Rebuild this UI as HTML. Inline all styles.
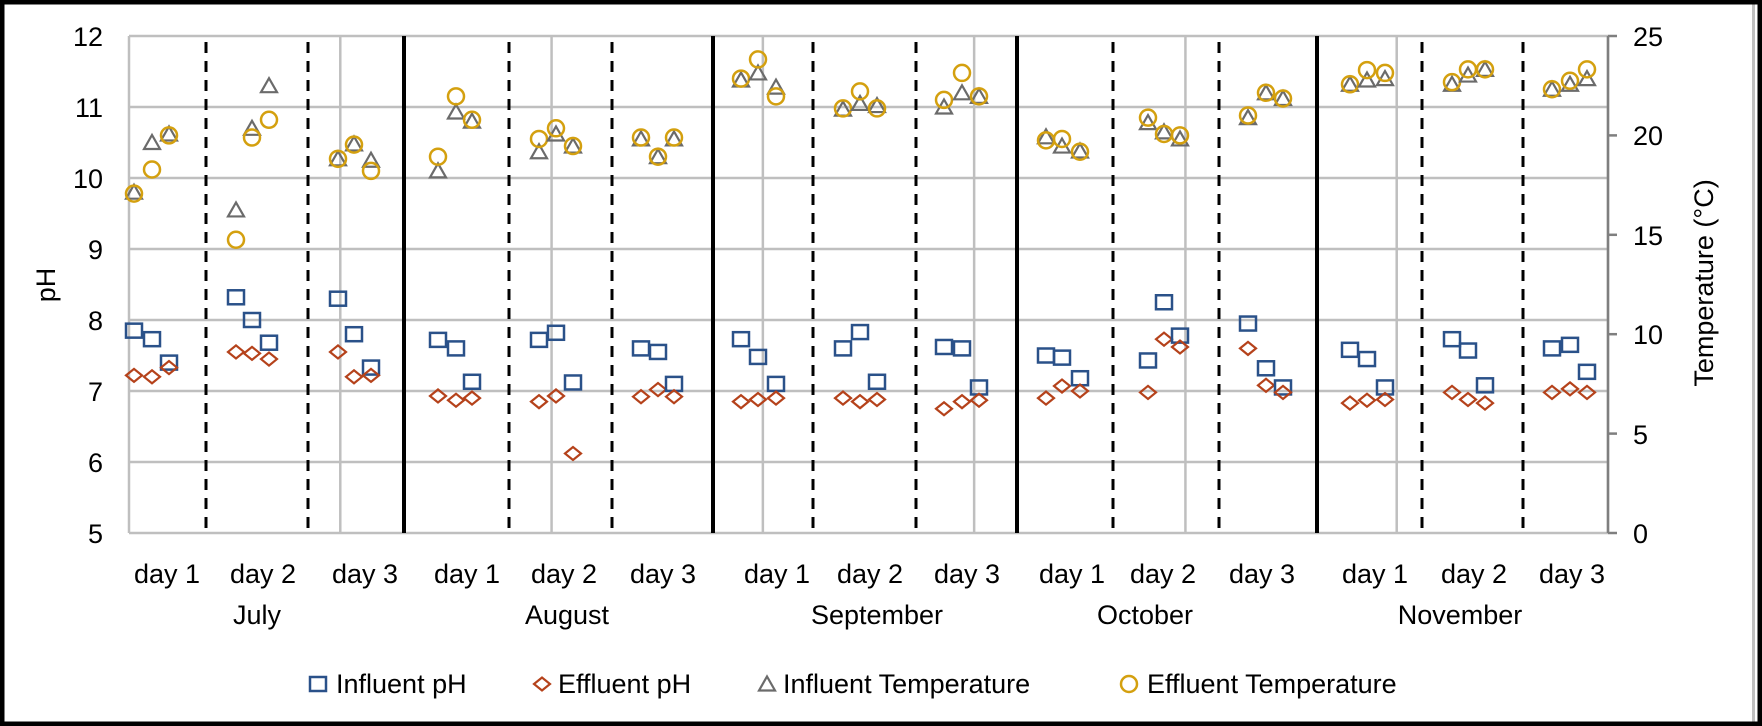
<!DOCTYPE html>
<html><head><meta charset="utf-8"><style>
html,body{margin:0;padding:0;background:#fff}
svg{display:block}
text{font-family:"Liberation Sans",sans-serif;fill:#000}
</style></head><body>
<svg id="s" width="1762" height="726" viewBox="0 0 1762 726" xmlns="http://www.w3.org/2000/svg">
<rect x="0" y="0" width="1762" height="726" fill="#fff"/>
<g id="grid" stroke="#bfbfbf" stroke-width="2.5" fill="none"></g>
<g id="seps"></g>
<g id="marks" fill="none" stroke-width="2.5"></g>
<g font-size="27" text-anchor="end">
<text x="103" y="46">12</text><text x="103" y="117">11</text><text x="103" y="188">10</text>
<text x="103" y="259">9</text><text x="103" y="330">8</text><text x="103" y="401">7</text>
<text x="103" y="472">6</text><text x="103" y="543">5</text>
</g>
<g font-size="27" text-anchor="start">
<text x="1633" y="46">25</text><text x="1633" y="145">20</text><text x="1633" y="245">15</text>
<text x="1633" y="344">10</text><text x="1633" y="444">5</text><text x="1633" y="543">0</text>
</g>
<text x="0" y="0" font-size="27" text-anchor="middle" transform="translate(55,285) rotate(-90)">pH</text>
<text x="0" y="0" font-size="27" text-anchor="middle" transform="translate(1713,283) rotate(-90)">Temperature (°C)</text>
<g font-size="27" text-anchor="middle">
<text x="167" y="583">day 1</text><text x="263" y="583">day 2</text><text x="365" y="583">day 3</text>
<text x="467" y="583">day 1</text><text x="564" y="583">day 2</text><text x="663" y="583">day 3</text>
<text x="777" y="583">day 1</text><text x="870" y="583">day 2</text><text x="967" y="583">day 3</text>
<text x="1072" y="583">day 1</text><text x="1163" y="583">day 2</text><text x="1262" y="583">day 3</text>
<text x="1375" y="583">day 1</text><text x="1474" y="583">day 2</text><text x="1572" y="583">day 3</text>
<text x="257" y="624">July</text><text x="567" y="624">August</text><text x="877" y="624">September</text>
<text x="1145" y="624">October</text><text x="1460" y="624">November</text>
</g>
<g font-size="27">
<text x="336" y="693">Influent pH</text>
<text x="558" y="693">Effluent pH</text>
<text x="783" y="693">Influent Temperature</text>
<text x="1147" y="693">Effluent Temperature</text>
</g>
<g id="leg" fill="none" stroke-width="2.5"></g>
<rect x="1752" y="0" width="3" height="726" fill="#bfbfbf"/>
<rect x="2" y="2" width="1758" height="722" fill="none" stroke="#000" stroke-width="5"/>
</svg>
<script>
const NS="http://www.w3.org/2000/svg";
function el(p,t,a){const e=document.createElementNS(NS,t);for(const k in a)e.setAttribute(k,a[k]);p.appendChild(e);return e;}
const g=document.getElementById('grid'),sp=document.getElementById('seps'),mk=document.getElementById('marks'),lg=document.getElementById('leg');
const L=129,R=1608,T=36,B=533;
const Y=p=>B-(p-5)*71;
for(let i=0;i<7;i++){el(g,'line',{x1:L,x2:R,y1:Y(6+i),y2:Y(6+i)});}
for(let k=0;k<=7;k++){const x=L+(R-L)*k/7;el(g,'line',{x1:x,x2:x,y1:T,y2:B});}
el(g,'line',{x1:L,x2:R,y1:B,y2:B});
el(g,'line',{x1:R,x2:R,y1:T,y2:B,stroke:'#7f7f7f'});
for(let k=0;k<=5;k++){const y=B-(B-T)*k/5;el(g,'line',{x1:R,x2:R+9,y1:y,y2:y,stroke:'#7f7f7f'});}
[206,308,509,612,813,916,1113,1219,1422,1523].forEach(x=>el(sp,'line',{x1:x,x2:x,y1:42,y2:B,stroke:'#000','stroke-width':3,'stroke-dasharray':'11,8'}));
[404,713,1017,1317].forEach(x=>el(sp,'line',{x1:x,x2:x,y1:T,y2:B,stroke:'#000','stroke-width':4}));
const X=[[134,152,169],[236,252,269],[338,354,371],[438,456,472],[539,556,573],[641,658,674],[741,758,776],[843,860,877],[944,962,979],[1046,1062,1080],[1148,1164,1180],[1248,1266,1283],[1350,1367,1385],[1452,1468,1485],[1552,1570,1587]];
const SQ=[[7.85,7.73,7.4],[8.32,8.0,7.68],[8.3,7.8,7.33],[7.72,7.6,7.13],[7.72,7.82,7.12],[7.6,7.55,7.1],[7.73,7.48,7.1],[7.6,7.83,7.13],[7.62,7.6,7.05],[7.5,7.47,7.18],[7.43,8.25,7.78],[7.95,7.32,7.05],[7.58,7.45,7.05],[7.73,7.57,7.08],[7.6,7.65,7.27]];
const DI=[[7.22,7.2,7.33],[7.55,7.53,7.45],[7.55,7.2,7.22],[6.93,6.87,6.9],[6.85,6.93,6.12],[6.92,7.02,6.92],[6.85,6.88,6.9],[6.9,6.85,6.88],[6.75,6.85,6.87],[6.9,7.07,7.0],[6.98,7.73,7.62],[7.6,7.08,6.98],[6.83,6.87,6.88],[6.98,6.88,6.83],[6.98,7.03,6.98]];
const TR=[[9.8,10.5,10.62],[9.55,10.7,11.3],[10.27,10.48,10.25],[10.1,10.93,10.8],[10.37,10.62,10.45],[10.55,10.3,10.55],[11.38,11.48,11.28],[10.97,11.05,11.02],[11.0,11.2,11.15],[10.58,10.45,10.38],[10.78,10.65,10.55],[10.85,11.2,11.12],[11.32,11.38,11.4],[11.32,11.45,11.53],[11.25,11.32,11.4]];
const CI=[[9.78,10.12,10.6],[9.13,10.57,10.82],[10.27,10.47,10.1],[10.3,11.15,10.82],[10.55,10.7,10.45],[10.57,10.3,10.57],[11.4,11.67,11.15],[10.98,11.22,10.98],[11.1,11.48,11.15],[10.53,10.55,10.37],[10.85,10.62,10.6],[10.88,11.2,11.12],[11.32,11.52,11.48],[11.35,11.53,11.53],[11.25,11.37,11.53]];
const cSq='#2a5189',cDi='#b5421b',cTr='#6b6b6b',cCi='#d4a00f';
function sq(p,x,y){el(p,'rect',{x:x-8,y:y-7,width:16,height:14,stroke:cSq});}
function di(p,x,y){el(p,'polygon',{points:`${x-8},${y} ${x},${y-6.5} ${x+8},${y} ${x},${y+6.5}`,stroke:cDi,'stroke-width':2.2});}
function tr(p,x,y){el(p,'polygon',{points:`${x-8},${y+6.5} ${x},${y-7.5} ${x+8},${y+6.5}`,stroke:cTr,'stroke-width':2.2});}
function ci(p,x,y){el(p,'circle',{cx:x,cy:y,r:8,stroke:cCi});}
for(let i=0;i<15;i++)for(let j=0;j<3;j++){const x=X[i][j];
 sq(mk,x,Y(SQ[i][j]));di(mk,x,Y(DI[i][j]));tr(mk,x,Y(TR[i][j]));ci(mk,x,Y(CI[i][j]));}
sq(lg,318,684);di(lg,542,684);tr(lg,767,684);ci(lg,1129,684);
</script>
</body></html>
